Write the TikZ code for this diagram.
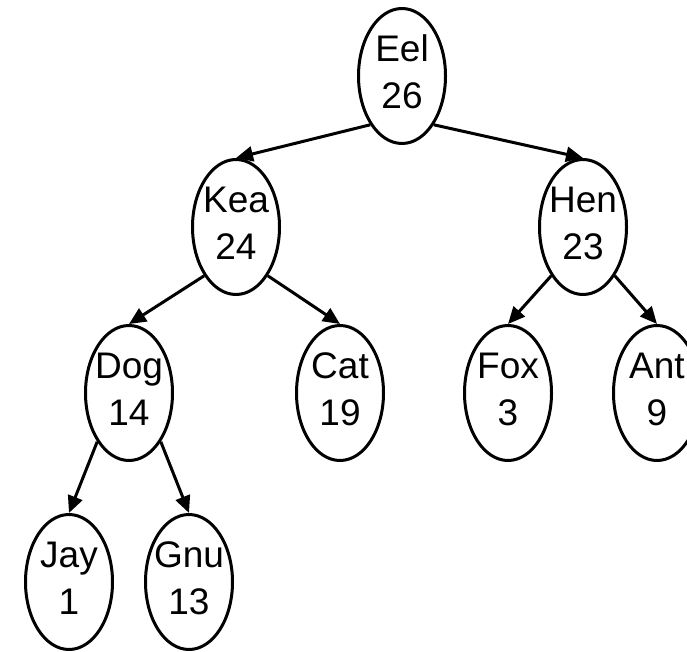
\documentclass[tikz,border=0pt]{standalone}
\usepackage{fontspec}
\setmainfont{Liberation Sans}
\usetikzlibrary{shapes.geometric,arrows.meta}
\newcommand\tlab[2]{\makebox[0pt]{\raisebox{-3pt}{\begin{tabular}{@{}c@{}}#1\\#2\end{tabular}}}}
\tikzset{
  tn/.style={ellipse, draw=black, line width=3pt, fill=white, inner sep=0pt,
    minimum width=87pt, minimum height=135pt,
    font=\fontsize{37}{47}\selectfont},
  edge/.style={line width=3pt, -{Triangle[length=17pt,width=15pt]}}
}
\begin{document}
\begin{tikzpicture}[x=1pt,y=1pt]
\useasboundingbox (0,0) rectangle (687,-652);
\clip (0,0) rectangle (687,-652);
\node[tn] (eel) at (402,-76) {\tlab{Eel}{26}};
\node[tn] (kea) at (236,-227) {\tlab{Kea}{24}};
\node[tn] (hen) at (583,-227) {\tlab{Hen}{23}};
\node[tn] (dog) at (129,-393) {\tlab{Dog}{14}};
\node[tn] (cat) at (340,-393) {\tlab{Cat}{19}};
\node[tn] (fox) at (508,-393) {\tlab{Fox}{3}};
\node[tn] (ant) at (657,-393) {\tlab{Ant}{9}};
\node[tn] (jay) at (69,-582) {\tlab{Jay}{1}};
\node[tn] (gnu) at (189,-582) {\tlab{Gnu}{13}};
\draw[edge] (eel.south west) -- (kea.north);
\draw[edge] (eel.south east) -- (hen.north);
\draw[edge] (kea.south west) -- (dog.north);
\draw[edge] (kea.south east) -- (cat.north);
\draw[edge] (hen.south west) -- (fox.north);
\draw[edge] (hen.south east) -- (ant.north);
\draw[edge] (dog.south west) -- (jay.north);
\draw[edge] (dog.south east) -- (gnu.north);
\end{tikzpicture}
\end{document}
